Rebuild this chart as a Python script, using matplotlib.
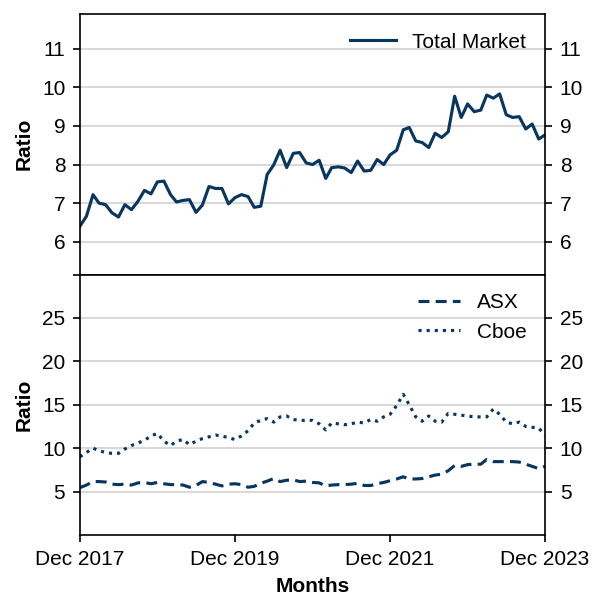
import matplotlib.pyplot as plt
import matplotlib.dates as mdates
import pandas as pd

plt.rcParams['font.family'] = ['Liberation Sans', 'DejaVu Sans']
plt.rcParams['font.size'] = 10

# monthly, Dec 2017 .. Dec 2023
months = pd.date_range('2017-12-01', '2023-12-01', freq='MS')

total_market = [6.4, 6.66, 7.22, 7.0, 6.96, 6.75, 6.64, 6.96, 6.83, 7.05,
                7.33, 7.24, 7.55, 7.57, 7.22, 7.03, 7.07, 7.09, 6.76, 6.95,
                7.43, 7.38, 7.38, 6.98, 7.14, 7.22, 7.17, 6.89, 6.92, 7.74,
                7.99, 8.37, 7.92, 8.29, 8.31, 8.04, 8.0, 8.11, 7.64, 7.92,
                7.94, 7.91, 7.79, 8.09, 7.83, 7.85, 8.13, 8.0, 8.25, 8.37,
                8.9, 8.96, 8.61, 8.57, 8.44, 8.81, 8.7, 8.85, 9.77, 9.22,
                9.57, 9.37, 9.41, 9.8, 9.72, 9.83, 9.29, 9.22, 9.24, 8.92,
                9.05, 8.66, 8.77]

asx = [5.45, 5.75, 6.15, 6.15, 6.1, 5.85, 5.8, 5.85, 5.75, 6.0,
       6.05, 5.9, 6.05, 5.9, 5.8, 5.8, 5.75, 5.5, 5.7, 6.15,
       6.05, 5.85, 5.65, 5.85, 5.9, 5.8, 5.5, 5.6, 5.95, 6.2,
       6.5, 6.15, 6.3, 6.35, 6.15, 6.2, 6.05, 6.0, 5.65, 5.75,
       5.8, 5.8, 5.85, 5.95, 5.7, 5.7, 5.9, 6.05, 6.25, 6.45,
       6.7, 6.45, 6.45, 6.5, 6.7, 6.9, 7.0, 7.4, 8.0, 7.9,
       8.1, 8.15, 8.15, 8.7, 8.45, 8.45, 8.45, 8.45, 8.4, 8.15,
       7.9, 7.65, 7.9]

cboe = [9.0, 9.5, 10.0, 9.7, 9.5, 9.4, 9.4, 9.9, 10.3, 10.6,
        10.9, 11.4, 11.7, 10.8, 10.3, 10.8, 11.0, 10.4, 10.8, 11.1,
        11.3, 11.5, 11.4, 11.2, 11.0, 11.4, 12.0, 12.9, 13.2, 13.4,
        13.0, 13.6, 13.7, 13.3, 13.2, 13.2, 13.2, 12.8, 12.1, 12.9,
        12.8, 12.7, 12.8, 13.0, 12.9, 13.3, 13.1, 13.6, 13.9, 14.9,
        16.2, 15.0, 13.6, 13.1, 13.7, 13.1, 13.0, 14.0, 13.9, 13.8,
        13.7, 13.6, 13.6, 13.6, 14.5, 13.9, 13.0, 12.8, 13.0, 12.5,
        12.4, 12.3, 11.5]

navy = '#08365f'
grid_c = '#d9d9d9'

fig, (ax1, ax2) = plt.subplots(2, 1, sharex=True, figsize=(6.05 / 1.5, 6.1 / 1.5), dpi=150)
fig.subplots_adjust(left=0.132, right=0.901, top=0.977, bottom=0.123, hspace=0)

ax1.plot(months, total_market, color=navy, lw=1.5, label='Total Market')
ax1.set_ylim(5.15, 11.9)
ax1.set_yticks([6, 7, 8, 9, 10, 11])
ax1.set_ylabel('Ratio', fontweight='bold')
ax1.legend(loc='upper right', frameon=False, handlelength=2.2)

ax2.plot(months, asx, color=navy, lw=1.5, ls=(0, (3.5, 2)), label='ASX')
ax2.plot(months, cboe, color=navy, lw=1.5, ls=(0, (1, 1.6)), label='Cboe')
ax2.set_ylim(0, 30)
ax2.set_yticks([5, 10, 15, 20, 25])
ax2.set_yticks([30], minor=True)
ax2.tick_params(axis='y', which='minor', length=3.5, width=0.8, right=False)
ax2.set_ylabel('Ratio', fontweight='bold')
ax2.set_xlabel('Months', fontweight='bold')
ax2.legend(loc='upper right', frameon=False, handlelength=2.0)

for ax in (ax1, ax2):
    ax.grid(axis='y', color=grid_c, lw=1)
    ax.set_axisbelow(True)
    ax.tick_params(axis='y', which='major', left=True, right=True,
                   labelleft=True, labelright=True)
    ax.yaxis.set_label_coords(-0.1, 0.5)

ax1.tick_params(axis='x', bottom=False)
ax2.set_xlim(months[0], months[-1])
ax2.set_xticks(pd.to_datetime(['2017-12-01', '2019-12-01', '2021-12-01', '2023-12-01']))
ax2.xaxis.set_major_formatter(mdates.DateFormatter('%b %Y'))

fig.savefig('out.png', dpi=150)
